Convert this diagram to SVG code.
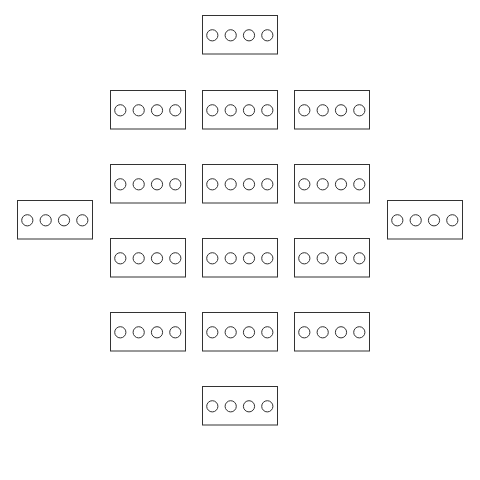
<svg xmlns="http://www.w3.org/2000/svg" width="480" height="480" viewBox="0 0 480 480">
<defs>
<style>
.box{fill:#fff;stroke:#333;stroke-width:1}
.c{fill:#fff;stroke:#333;stroke-width:1}
</style>
<g id="tpl">
<rect class="box" x="0" y="0" width="75" height="38.5"/>
<circle class="c" cx="9.8" cy="19.8" r="5.6"/>
<circle class="c" cx="28.2" cy="19.8" r="5.6"/>
<circle class="c" cx="46.5" cy="19.8" r="5.6"/>
<circle class="c" cx="64.8" cy="19.8" r="5.6"/>
</g>
</defs>
<rect width="480" height="480" fill="#fff"/>
<g id="n0"><use href="#tpl" x="202.5" y="15.5"/></g>
<g id="n1"><use href="#tpl" x="110.5" y="90.5"/></g>
<g id="n2"><use href="#tpl" x="202.5" y="90.5"/></g>
<g id="n3"><use href="#tpl" x="294.5" y="90.5"/></g>
<g id="n4"><use href="#tpl" x="110.5" y="164.5"/></g>
<g id="n5"><use href="#tpl" x="202.5" y="164.5"/></g>
<g id="n6"><use href="#tpl" x="294.5" y="164.5"/></g>
<g id="n7"><use href="#tpl" x="17.5" y="200.5"/></g>
<g id="n8"><use href="#tpl" x="387.5" y="200.5"/></g>
<g id="n9"><use href="#tpl" x="110.5" y="238.5"/></g>
<g id="n10"><use href="#tpl" x="202.5" y="238.5"/></g>
<g id="n11"><use href="#tpl" x="294.5" y="238.5"/></g>
<g id="n12"><use href="#tpl" x="110.5" y="312.5"/></g>
<g id="n13"><use href="#tpl" x="202.5" y="312.5"/></g>
<g id="n14"><use href="#tpl" x="294.5" y="312.5"/></g>
<g id="n15"><use href="#tpl" x="202.5" y="386.5"/></g>
<g id="connectors"></g>
</svg>
